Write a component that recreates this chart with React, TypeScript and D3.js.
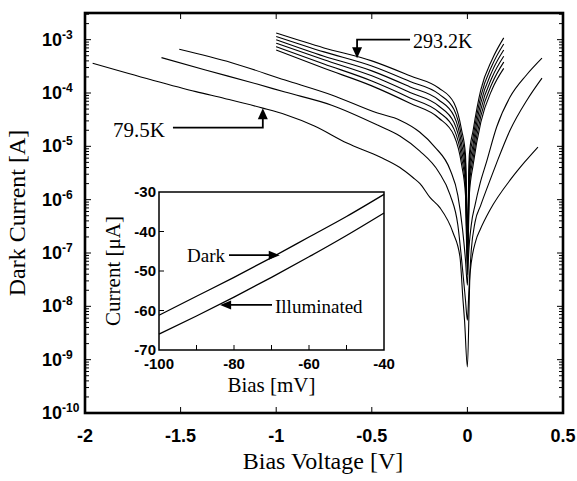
import React from "react";
import * as d3 from "d3";

// ---- main plot: |dark current| vs bias, several temperatures ----
const biasTicks = [-2, -1.5, -1, -0.5, 0, 0.5];
const decades = [-10, -9, -8, -7, -6, -5, -4, -3];

// 79.5 K (lowest curve)
const curve1Bias = [-1.96, -1.65, -1.42, -1.27, -1.07, -0.95, -0.8, -0.63, -0.457, -0.353, -0.285, -0.248, -0.196, -0.143, -0.075, -0.039, -0.023, -0.015, 0, 0.014, 0.045, 0.066, 0.118, 0.23, 0.3, 0.369];
const curve1Current = [3.6e-4, 1.75e-4, 1.06e-4, 7.9e-5, 5.2e-5, 3.9e-5, 2.4e-5, 1.15e-5, 6.3e-6, 4.0e-6, 2.6e-6, 2.0e-6, 1.1e-6, 7.0e-7, 2.4e-7, 8.5e-8, 1.3e-8, 5.5e-9, 7.3e-10, 4.2e-8, 1.75e-7, 2.7e-7, 6.4e-7, 2.5e-6, 5.1e-6, 9.7e-6];

const curve2Bias = [-1.6, -1.37, -1.1, -0.954, -0.71, -0.47, -0.353, -0.25, -0.15, -0.09, -0.05, -0.025, -0.01, 0, 0.008, 0.02, 0.04, 0.07, 0.118, 0.153, 0.223, 0.312, 0.39];
const curve2Current = [4.6e-4, 2.7e-4, 1.47e-4, 1.04e-4, 5.9e-5, 2.5e-5, 1.56e-5, 8.2e-6, 3.3e-6, 1.22e-6, 3.35e-7, 4.8e-8, 1.3e-8, 5.5e-9, 2.0e-8, 1.1e-7, 3.8e-7, 7.9e-7, 2.3e-6, 4.9e-6, 2.0e-5, 7.4e-5, 1.9e-4];

const curve3Bias = [-1.507, -1.233, -0.954, -0.71, -0.47, -0.353, -0.25, -0.17, -0.09, -0.05, -0.025, -0.01, 0, 0.005, 0.02, 0.04, 0.066, 0.1, 0.153, 0.223, 0.31, 0.39];
const curve3Current = [6.6e-4, 3.7e-4, 1.75e-4, 9.2e-5, 4.2e-5, 3.1e-5, 1.86e-5, 9.7e-6, 3.6e-6, 1.2e-6, 2.7e-7, 7.4e-8, 2.5e-8, 7.4e-8, 3.3e-7, 7.9e-7, 2.0e-6, 5.1e-6, 2.3e-5, 8.4e-5, 2.2e-4, 4.5e-4];

// bundle of warm curves, measured from -1 V to +0.19 V (top one = 293.2 K)
const bundleBias = [-1, -0.75, -0.5, -0.3, -0.15, -0.07, -0.03, -0.01, 0, 0.01, 0.03, 0.07, 0.13, 0.19];
const group1 = [1.33e-3, 7.0e-4, 4.0e-4, 2.1e-4, 1.24e-4, 6.5e-5, 2.0e-5, 6.9e-6, 2.7e-7, 6.9e-6, 2.0e-5, 1.14e-4, 4.3e-4, 1.08e-3];
const group2 = [1.15e-3, 5.9e-4, 3.2e-4, 1.64e-4, 9.6e-5, 4.9e-5, 1.5e-5, 4.9e-6, 1.75e-7, 4.9e-6, 1.5e-5, 8.6e-5, 3.35e-4, 8.3e-4];
const group3 = [1.0e-3, 4.9e-4, 2.6e-4, 1.3e-4, 7.4e-5, 3.7e-5, 1.1e-5, 3.45e-6, 1.14e-7, 3.45e-6, 1.1e-5, 6.5e-5, 2.6e-4, 6.4e-4];
const group4 = [8.6e-4, 4.2e-4, 2.1e-4, 1.02e-4, 5.7e-5, 2.8e-5, 8.2e-6, 2.4e-6, 8.1e-8, 2.4e-6, 8.2e-6, 4.9e-5, 2.0e-4, 4.9e-4];
const group5 = [7.4e-4, 3.5e-4, 1.68e-4, 8.1e-5, 4.4e-5, 2.1e-5, 6.05e-6, 1.73e-6, 5.7e-8, 1.73e-6, 6.05e-6, 3.7e-5, 1.54e-4, 3.8e-4];
const group6 = [6.4e-4, 2.9e-4, 1.36e-4, 6.4e-5, 3.4e-5, 1.6e-5, 4.5e-6, 1.22e-6, 3.9e-8, 1.22e-6, 4.5e-6, 2.8e-5, 1.19e-4, 2.9e-4];

// ---- inset: current near zero bias ----
const insetBias = [-100, -90, -80, -70, -60, -50, -40];
const darkCurrent = [-61.2, -56.4, -51.6, -46.6, -41.4, -36.2, -30.6];
const illumCurrent = [-66.0, -61.4, -56.6, -51.6, -46.4, -41.0, -35.3];
const insetXLabels = [-100, -80, -60, -40];
const insetXMinor = [-90, -80, -70, -60, -50];
const insetYLabels = [-30, -40, -50, -60, -70];
const insetYMinor = [-40, -50, -60];

const SANS = "'Liberation Sans', Arial, Helvetica, sans-serif";
const SERIF = "'Liberation Serif', 'Times New Roman', Times, serif";

export default function App() {
  const x = d3.scaleLinear().domain([-2, 0.5]).range([85, 563]);
  const y = d3.scaleLog().domain([1e-10, Math.pow(10, -2.5)]).range([413, 13]);

  const xi = d3.scaleLinear().domain([-100, -40]).range([159, 384]);
  const yi = d3.scaleLinear().domain([-70, -30]).range([350, 192]);

  const ivLine = d3
    .line<[number, number]>()
    .x((d) => x(d[0]))
    .y((d) => y(d[1]))
    .curve(d3.curveMonotoneX);

  const insetLine = d3
    .line<[number, number]>()
    .x((d) => xi(d[0]))
    .y((d) => yi(d[1]))
    .curve(d3.curveMonotoneX);

  const zip = (a: number[], b: number[]) => a.map((v, i) => [v, b[i]] as [number, number]);

  const curves = [
    zip(curve1Bias, curve1Current),
    zip(curve2Bias, curve2Current),
    zip(curve3Bias, curve3Current),
    ...[group1, group2, group3, group4, group5, group6].map((g) => zip(bundleBias, g)),
  ];

  const yTop = y.domain()[1];
  const minor: number[] = [];
  decades.forEach((e) => {
    for (let m = 2; m <= 9; m++) {
      const v = m * Math.pow(10, e);
      if (v <= yTop) minor.push(v);
    }
  });

  // annotation anchors (data coords)
  const a79 = { tipV: -1.07, tipI: 5.2e-5, elbowI: 2.25e-5, startV: -1.54 };
  const a293 = { tipV: -0.577, tipI: 4.5e-4, elbowI: 1.0e-3, endV: -0.3 };

  const downHead = (cx: number, cy: number) => `M${cx},${cy} L${cx - 5},${cy - 11} L${cx + 5},${cy - 11} Z`;
  const upHead = (cx: number, cy: number) => `M${cx},${cy} L${cx - 5},${cy + 11} L${cx + 5},${cy + 11} Z`;
  const rightHead = (cx: number, cy: number) => `M${cx},${cy} L${cx - 11},${cy - 4.5} L${cx - 11},${cy + 4.5} Z`;
  const leftHead = (cx: number, cy: number) => `M${cx},${cy} L${cx + 11},${cy - 4.5} L${cx + 11},${cy + 4.5} Z`;

  const darkTip = { v: -67.8, i: -46 };
  const illumTip = { v: -83.7, i: -58.6 };

  return (
    <svg
      width={577}
      height={481}
      style={{ position: "absolute", left: 0, top: 0, background: "#fff" }}
    >
      <defs>
        <clipPath id="plotClip">
          <rect x={85} y={13} width={478} height={400} />
        </clipPath>
      </defs>

      {/* curves */}
      <g clipPath="url(#plotClip)" fill="none" stroke="#000" strokeWidth={1.1}>
        {curves.map((c, i) => (
          <path key={i} d={ivLine(c) || ""} />
        ))}
      </g>

      {/* ticks */}
      <g stroke="#000" strokeWidth={1}>
        {decades.map((e) => (
          <g key={e}>
            <line x1={85} x2={91} y1={y(Math.pow(10, e))} y2={y(Math.pow(10, e))} />
            <line x1={563} x2={557} y1={y(Math.pow(10, e))} y2={y(Math.pow(10, e))} />
          </g>
        ))}
        {minor.map((v, i) => (
          <g key={i}>
            <line x1={85} x2={89} y1={y(v)} y2={y(v)} />
            <line x1={563} x2={559} y1={y(v)} y2={y(v)} />
          </g>
        ))}
        {biasTicks.slice(1, -1).map((t) => (
          <g key={t}>
            <line x1={x(t)} x2={x(t)} y1={13} y2={19} />
            <line x1={x(t)} x2={x(t)} y1={413} y2={407} />
          </g>
        ))}
      </g>

      {/* frame */}
      <rect x={85} y={13} width={478} height={400} fill="none" stroke="#000" strokeWidth={2.6} />

      {/* tick labels */}
      <g fontFamily={SANS} fontWeight="bold" fill="#000">
        {decades.map((e) => (
          <text key={e} x={42} y={y(Math.pow(10, e)) + 6} fontSize={18}>
            10
            <tspan dy={-7} fontSize={12}>
              {String(e)}
            </tspan>
          </text>
        ))}
        {biasTicks.map((t) => (
          <text key={t} x={x(t)} y={442} fontSize={18} textAnchor="middle">
            {String(t)}
          </text>
        ))}
      </g>

      {/* axis titles */}
      <text x={323} y={469} fontFamily={SERIF} fontSize={24} textAnchor="middle">
        Bias Voltage [V]
      </text>
      <text
        transform="translate(25,213) rotate(-90)"
        fontFamily={SERIF}
        fontSize={24}
        textAnchor="middle"
      >
        Dark Current [A]
      </text>

      {/* annotations */}
      <g stroke="#000" strokeWidth={1.8} fill="none">
        <polyline
          points={`${x(a79.startV)},${y(a79.elbowI)} ${x(a79.tipV)},${y(a79.elbowI)} ${x(a79.tipV)},${y(a79.tipI) + 8}`}
        />
        <polyline
          points={`${x(a293.endV)},${y(a293.elbowI)} ${x(a293.tipV)},${y(a293.elbowI)} ${x(a293.tipV)},${y(a293.tipI) - 8}`}
        />
      </g>
      <path d={upHead(x(a79.tipV), y(a79.tipI))} fill="#000" />
      <path d={downHead(x(a293.tipV), y(a293.tipI))} fill="#000" />
      <text x={113} y={137} fontFamily={SERIF} fontSize={21}>
        79.5K
      </text>
      <text x={413} y={48} fontFamily={SERIF} fontSize={20}>
        293.2K
      </text>

      {/* inset */}
      <rect x={159} y={192} width={225} height={158} fill="#fff" stroke="#000" strokeWidth={1.5} />
      <g stroke="#000" strokeWidth={1}>
        {insetXMinor.map((t) => (
          <line key={t} x1={xi(t)} x2={xi(t)} y1={350} y2={345} />
        ))}
        {insetYMinor.map((t) => (
          <line key={t} x1={159} x2={164} y1={yi(t)} y2={yi(t)} />
        ))}
      </g>
      <g fill="none" stroke="#000" strokeWidth={1.3}>
        <path d={insetLine(zip(insetBias, darkCurrent)) || ""} />
        <path d={insetLine(zip(insetBias, illumCurrent)) || ""} />
      </g>
      <g fontFamily={SANS} fontWeight="bold" fontSize={15}>
        {insetYLabels.map((t) => (
          <text key={t} x={156} y={yi(t) + 5} textAnchor="end">
            {String(t)}
          </text>
        ))}
        {insetXLabels.map((t) => (
          <text key={t} x={xi(t)} y={369} textAnchor="middle">
            {String(t)}
          </text>
        ))}
      </g>
      <text x={271.5} y={392} fontFamily={SERIF} fontSize={21} textAnchor="middle">
        Bias [mV]
      </text>
      <text
        transform="translate(120,271) rotate(-90)"
        fontFamily={SERIF}
        fontSize={21}
        textAnchor="middle"
      >
        Current [μA]
      </text>

      {/* inset arrows */}
      <g stroke="#000" strokeWidth={1.8}>
        <line x1={229} x2={xi(darkTip.v) - 9} y1={yi(darkTip.i)} y2={yi(darkTip.i)} />
        <line x1={272} x2={xi(illumTip.v) + 9} y1={yi(illumTip.i)} y2={yi(illumTip.i)} />
      </g>
      <path d={rightHead(xi(darkTip.v), yi(darkTip.i))} fill="#000" />
      <path d={leftHead(xi(illumTip.v), yi(illumTip.i))} fill="#000" />
      <text x={187} y={262} fontFamily={SERIF} fontSize={19}>
        Dark
      </text>
      <text x={275} y={313} fontFamily={SERIF} fontSize={19}>
        Illuminated
      </text>
    </svg>
  );
}
